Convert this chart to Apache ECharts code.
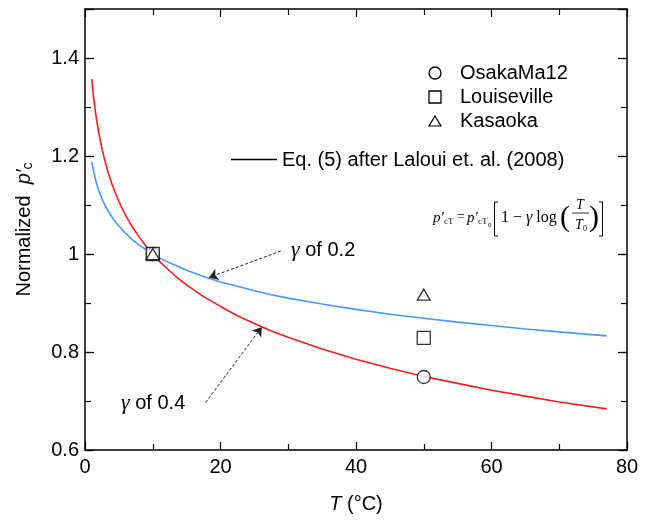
<!DOCTYPE html>
<html>
<head>
<meta charset="utf-8">
<script src="https://cdn.jsdelivr.net/npm/echarts@6/dist/echarts.min.js"></script>
<style>html,body{margin:0;padding:0;background:#fff}#c{width:654px;height:520px}</style>
</head>
<body>
<div id="c"></div>
<script>
// Temperature grid (°C) at which curves were read
var tempT = [1, 1.25, 1.5, 1.75, 2, 2.5, 3, 3.5, 4, 4.5, 5, 6, 7, 8, 9, 10, 11, 12, 13.5, 15, 17.5, 20, 22.5, 25, 27.5, 30, 35, 40, 45, 50, 55, 60, 65, 70, 77];
// gamma = 0.4 curve (red)
var gamma04 = [1.357, 1.322, 1.294, 1.270, 1.250, 1.215, 1.187, 1.163, 1.142, 1.124, 1.107, 1.079, 1.055, 1.035, 1.016, 1.000, 0.985, 0.972, 0.953, 0.937, 0.913, 0.893, 0.874, 0.858, 0.843, 0.830, 0.806, 0.785, 0.767, 0.750, 0.736, 0.722, 0.710, 0.698, 0.684];
// gamma = 0.2 curve (blue)
var gamma02 = [1.188, 1.170, 1.155, 1.142, 1.131, 1.113, 1.098, 1.086, 1.075, 1.065, 1.057, 1.042, 1.029, 1.018, 1.009, 1.000, 0.992, 0.985, 0.976, 0.967, 0.954, 0.943, 0.934, 0.925, 0.917, 0.910, 0.898, 0.887, 0.877, 0.869, 0.861, 0.854, 0.847, 0.841, 0.833];
// Test data
var pointT = [10, 50];
var osaka = [1.0, 0.749];
var louis = [1.0, 0.829];
var kasaoka = [1.0, 0.917];
// Axis ticks
var xTicks = [0, 20, 40, 60, 80];
var yTicks = [0.6, 0.8, 1, 1.2, 1.4];

function pairs(xs, ys){ return xs.map(function(x,i){ return [x, ys[i]]; }); }

var SANS = 'Liberation Sans, Arial, sans-serif';
var SERIF = 'Liberation Serif, Times New Roman, serif';

var chart = echarts.init(document.getElementById('c'), null, {renderer:'canvas'});

function xAx(pos, labels){
  return {
    type:'value', position:pos, min:0, max:80, interval:20,
    axisLine:{show:true, lineStyle:{color:'#000', width:1.5}},
    axisTick:{show:true, inside:true, length:8, lineStyle:{color:'#000', width:1.2}},
    minorTick:{show:true, splitNumber:2, length:6, lineStyle:{color:'#000', width:1.2}},
    axisLabel:{show:labels, color:'#000', fontSize:20, fontFamily:SANS, margin:7,
      formatter:function(v){ return xTicks.indexOf(v) >= 0 ? String(v) : ''; }},
    splitLine:{show:false}
  };
}
function yAx(pos, labels, minor){
  return {
    type:'value', position:pos, min:0.6, max:1.5, interval: minor ? 0.1 : 0.2,
    axisLine:{show:!minor, lineStyle:{color:'#000', width:1.5}},
    axisTick:{show:true, inside:true, length: minor ? 6 : 9, lineStyle:{color:'#000', width:1.2}},
    axisLabel:{show:labels, color:'#000', fontSize:20, fontFamily:SANS, margin:6,
      formatter:function(v){
        for (var i=0;i<yTicks.length;i++){ if (Math.abs(v-yTicks[i])<1e-6) return String(yTicks[i]); }
        return '';
      }},
    splitLine:{show:false}
  };
}

var xA = [xAx('bottom', true), xAx('top', false)];
xA[0].name = '{i|T} (°C)';
xA[0].nameLocation = 'middle';
xA[0].nameGap = 44;
xA[0].nameTextStyle = {color:'#000', fontSize:20, fontFamily:SANS,
  rich:{i:{fontStyle:'italic', fontSize:20, fontFamily:SANS, color:'#000'}}};
var yA = [yAx('left', true, false), yAx('left', false, true), yAx('right', false, false), yAx('right', false, true)];
yA[0].name = 'Normalized  {i|p′}{s|c}';
yA[0].nameLocation = 'middle';
yA[0].nameGap = 50;
yA[0].nameTextStyle = {color:'#000', fontSize:20, fontFamily:SANS,
  rich:{i:{fontStyle:'italic', fontSize:20, fontFamily:SANS, color:'#000'},
        s:{fontSize:14, fontFamily:SANS, color:'#000', padding:[8,0,0,0]}}};

var arrowStyle = {color:'#222', width:1, type:[3,2]};
var arrowML = function(from, to){
  return {silent:true, symbol:['none','arrow'], symbolSize:9, label:{show:false},
    lineStyle:arrowStyle, itemStyle:{color:'#000'}, emphasis:{disabled:true},
    data:[[{coord:from, symbol:'none'},{coord:to, symbol:'arrow', symbolSize:9, itemStyle:{color:'#000'}}]]};
};

var option = {
  animation:false,
  backgroundColor:'#fff',
  grid:{left:85, right:27, top:9, bottom:70, containLabel:false},
  xAxis:xA,
  yAxis:yA,
  series:[
    {name:'γ of 0.4', type:'line', data:pairs(tempT, gamma04), showSymbol:false, symbol:'none',
     lineStyle:{color:'#ff1a1a', width:1.6}, smooth:false, z:2,
     markLine:arrowML([17.8,0.697],[26.1,0.851])},
    {name:'γ of 0.2', type:'line', data:pairs(tempT, gamma02), showSymbol:false, symbol:'none',
     lineStyle:{color:'#4499ff', width:1.6}, smooth:false, z:2,
     markLine:arrowML([28.9,1.006],[18.3,0.952])},
    {name:'OsakaMa12', type:'scatter', data:pairs(pointT, osaka), symbol:'circle', symbolSize:13,
     itemStyle:{color:'#fff', borderColor:'#000', borderWidth:1.3}, z:3},
    {name:'Louiseville', type:'scatter', data:pairs(pointT, louis), symbol:'rect', symbolSize:13,
     itemStyle:{color:'#fff', borderColor:'#000', borderWidth:1.3}, z:4},
    {name:'Kasaoka', type:'scatter', data:pairs(pointT, kasaoka), symbol:'triangle', symbolSize:[13,11],
     itemStyle:{color:'#fff', borderColor:'#000', borderWidth:1.3}, z:5}
  ],
  graphic:[
    // legend
    {type:'circle', shape:{cx:435, cy:73, r:6}, style:{fill:'#fff', stroke:'#000', lineWidth:1.3}},
    {type:'rect', shape:{x:429, y:91, width:12, height:12}, style:{fill:'#fff', stroke:'#000', lineWidth:1.3}},
    {type:'polygon', shape:{points:[[435,116],[441,126],[429,126]]}, style:{fill:'#fff', stroke:'#000', lineWidth:1.2}},
    {type:'text', style:{x:460, y:73, text:'OsakaMa12', fontSize:20, fontFamily:SANS, fill:'#000', verticalAlign:'middle'}},
    {type:'text', style:{x:460, y:97, text:'Louiseville', fontSize:20, fontFamily:SANS, fill:'#000', verticalAlign:'middle'}},
    {type:'text', style:{x:460, y:121.5, text:'Kasaoka', fontSize:20, fontFamily:SANS, fill:'#000', verticalAlign:'middle'}},
    {type:'line', shape:{x1:231, y1:159.5, x2:277, y2:159.5}, style:{stroke:'#000', lineWidth:1.6}},
    {type:'text', style:{x:282, y:160, text:'Eq. (5) after Laloui et. al. (2008)', fontSize:20, fontFamily:SANS, fill:'#000', verticalAlign:'middle'}},
    // annotations
    {type:'text', style:{x:291, y:250, text:'{g|γ} of 0.2', fontSize:20, fontFamily:SANS, fill:'#000', verticalAlign:'middle',
      rich:{g:{fontFamily:SERIF, fontStyle:'italic', fontSize:22, fill:'#000'}}}},
    {type:'text', style:{x:121, y:403, text:'{g|γ} of 0.4', fontSize:20, fontFamily:SANS, fill:'#000', verticalAlign:'middle',
      rich:{g:{fontFamily:SERIF, fontStyle:'italic', fontSize:22, fill:'#000'}}}},
    // formula
    {type:'text', style:{x:433, y:218, text:'p′', fontSize:15, fontFamily:SERIF, fontStyle:'italic', fill:'#000', verticalAlign:'middle'}},
    {type:'text', style:{x:444, y:222, text:'cT', fontSize:9, fontFamily:SERIF, fill:'#000', verticalAlign:'middle'}},
    {type:'text', style:{x:457, y:217, text:'=', fontSize:14, fontFamily:SERIF, fill:'#000', verticalAlign:'middle'}},
    {type:'text', style:{x:467, y:218, text:'p′', fontSize:15, fontFamily:SERIF, fontStyle:'italic', fill:'#000', verticalAlign:'middle'}},
    {type:'text', style:{x:478, y:222, text:'cT', fontSize:9, fontFamily:SERIF, fill:'#000', verticalAlign:'middle'}},
    {type:'text', style:{x:488, y:225, text:'0', fontSize:7, fontFamily:SERIF, fill:'#000', verticalAlign:'middle'}},
    {type:'polyline', shape:{points:[[498,202],[494.5,202],[494.5,236],[498,236]]}, style:{stroke:'#000', lineWidth:1, fill:null}},
    {type:'text', style:{x:501, y:218, text:'1 − {g|γ} log', fontSize:16, fontFamily:SERIF, fill:'#000', verticalAlign:'middle',
      rich:{g:{fontFamily:SERIF, fontStyle:'italic', fontSize:16, fill:'#000'}}}},
    {type:'text', style:{x:560, y:218, text:'(', fontSize:30, fontFamily:SERIF, fill:'#000', verticalAlign:'middle'}},
    {type:'text', style:{x:576, y:205, text:'T', fontSize:14, fontFamily:SERIF, fontStyle:'italic', fill:'#000', verticalAlign:'middle'}},
    {type:'line', shape:{x1:572, y1:213, x2:589, y2:213}, style:{stroke:'#000', lineWidth:0.8}},
    {type:'text', style:{x:575, y:225, text:'T', fontSize:14, fontFamily:SERIF, fontStyle:'italic', fill:'#000', verticalAlign:'middle'}},
    {type:'text', style:{x:583, y:229, text:'0', fontSize:8, fontFamily:SERIF, fill:'#000', verticalAlign:'middle'}},
    {type:'text', style:{x:589, y:218, text:')', fontSize:30, fontFamily:SERIF, fill:'#000', verticalAlign:'middle'}},
    {type:'polyline', shape:{points:[[599,202],[602.5,202],[602.5,236],[599,236]]}, style:{stroke:'#000', lineWidth:1, fill:null}}
  ]
};
chart.setOption(option);
</script>
</body>
</html>
